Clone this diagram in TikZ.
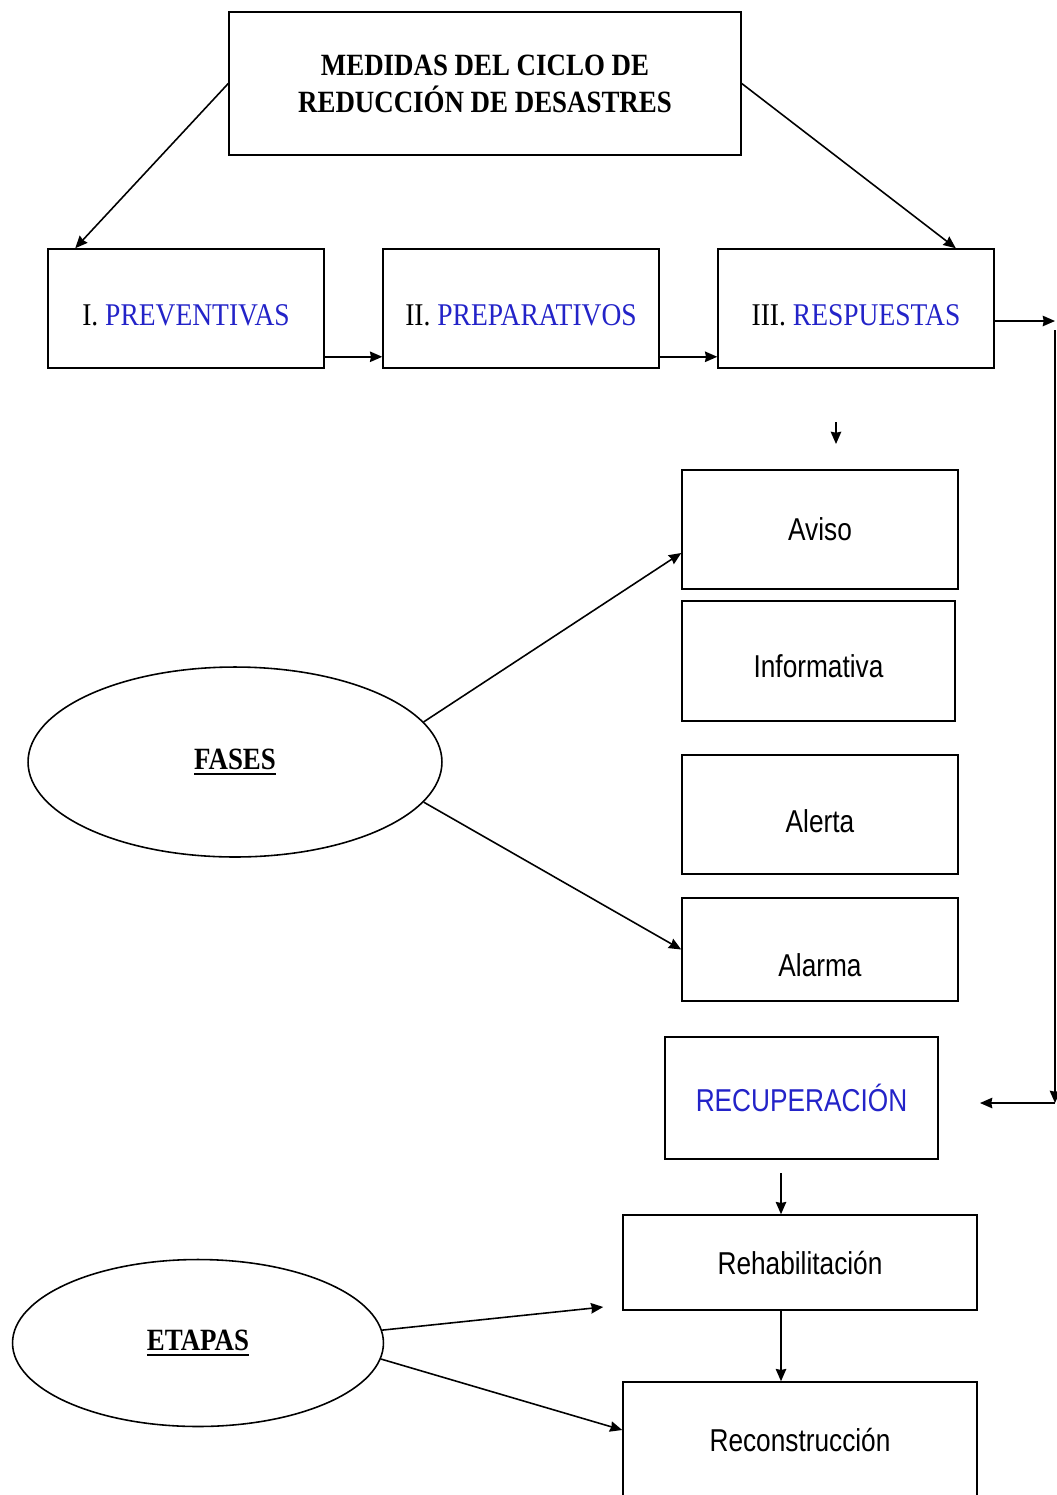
\documentclass[tikz,border=0pt]{standalone}
\usepackage{fontspec}
\setmainfont{Liberation Serif}[FakeStretch=0.87]
\setsansfont{Liberation Sans}[FakeStretch=0.83]
\newcommand{\subr}[1]{\setbox0\hbox{#1}\rlap{\rule[-3.5pt]{\wd0}{1.6pt}}\box0}
\usetikzlibrary{positioning}
\usetikzlibrary{arrows.meta}
\usetikzlibrary{shapes.geometric}
\definecolor{fblue}{RGB}{35,35,200}
\tikzset{>={Stealth[length=7pt,width=6pt,inset=0.6pt]}}
\tikzset{box/.style={draw, rectangle, minimum width=5.52cm, minimum height=2.38cm, inner sep=0pt, align=center}}
\tikzset{etapa/.style={box, font=\fontsize{18}{21}\selectfont, text height=19pt, text depth=0pt}}
\tikzset{fase/.style={box, font=\sffamily\fontsize{18}{21}\selectfont}}
\tikzset{oval/.style={draw, ellipse, inner sep=0pt, font=\bfseries\fontsize{17.6}{21}\selectfont}}

\begin{document}
\begin{tikzpicture}[x=0.02cm, y=-0.02cm, line width=0.9pt]
    \useasboundingbox (0,0) rectangle (1057,1495);

    \node[box, minimum width=10.24cm, minimum height=2.86cm, font=\bfseries\fontsize{17.6}{21}\selectfont] (ciclo) at (485,83.5) {MEDIDAS DEL CICLO DE\\REDUCCIÓN DE DESASTRES};

    \node[etapa] (prev) at (186,308.5) {I. \textcolor{fblue}{PREVENTIVAS}};
    \node[etapa] (prep) [right=1.15cm of prev] {II. \textcolor{fblue}{PREPARATIVOS}};
    \node[etapa] (resp) [right=1.15cm of prep] {III. \textcolor{fblue}{RESPUESTAS}};

    \node[fase] (aviso) at (820,529.5) {Aviso};
    \node[fase, minimum width=5.46cm, minimum height=2.4cm, text height=19pt, text depth=0pt] (info) at (818.5,661) {Informativa};
    \node[fase, text height=21pt, text depth=0pt] (alerta) at (820,814.5) {Alerta};
    \node[fase, minimum height=2.06cm, text height=31pt, text depth=0pt] (alarma) at (820,949.5) {Alarma};

    \node[oval, minimum width=8.28cm, minimum height=3.8cm] (fases) at (235,762) {\subr{FASES}};
    \node[oval, minimum width=7.42cm, minimum height=3.34cm] (etapas) at (198,1343) {\subr{ETAPAS}};

    \node[fase, minimum width=5.46cm, minimum height=2.44cm, text=fblue] (recup) at (801.5,1098) {RECUPERACIÓN};
    \node[fase, minimum width=7.08cm, minimum height=1.9cm] (rehab) at (800,1262.5) {Rehabilitación};
    \node[fase, minimum width=7.08cm, minimum height=2.32cm] (recon) at (800,1440) {Reconstrucción};

    \coordinate (c1) at (1055,321);
    \coordinate (c2) at (1055,330);
    \coordinate (c3) at (1055,1103);
    \coordinate (c4) at (980,1103);
    \coordinate (d1) at (836,422);
    \coordinate (d2) at (836,444);
    \coordinate (r1) at (781,1173);

    \draw[->] (ciclo.west) -- ([xshift=0.56cm]prev.north west);
    \draw[->] (ciclo.east) -- ([xshift=-0.78cm]resp.north east);
    \draw[->] ([yshift=0.24cm]prev.south east) -- ([yshift=0.24cm]prep.south west);
    \draw[->] ([yshift=0.24cm]prep.south east) -- ([yshift=0.24cm]resp.south west);
    \draw[->] (resp.east |- c1) -- (c1);
    \draw[->] (c2) -- (c3);
    \draw[->] (c3) -- (c4);
    \draw[->] (d1) -- (d2);

    \draw[->] (fases.12) -- ([yshift=-0.47cm]aviso.west);
    \draw[->] (fases.-12) -- (alarma.west);

    \draw[->] (r1) -- (r1 |- rehab.north);
    \draw[->] (r1 |- rehab.south) -- (r1 |- recon.north);

    \draw[->] (etapas.4) -- ([xshift=-0.38cm,yshift=-0.89cm]rehab.west);
    \draw[->] (etapas.-5) -- ([yshift=0.2cm]recon.west);
\end{tikzpicture}
\end{document}
